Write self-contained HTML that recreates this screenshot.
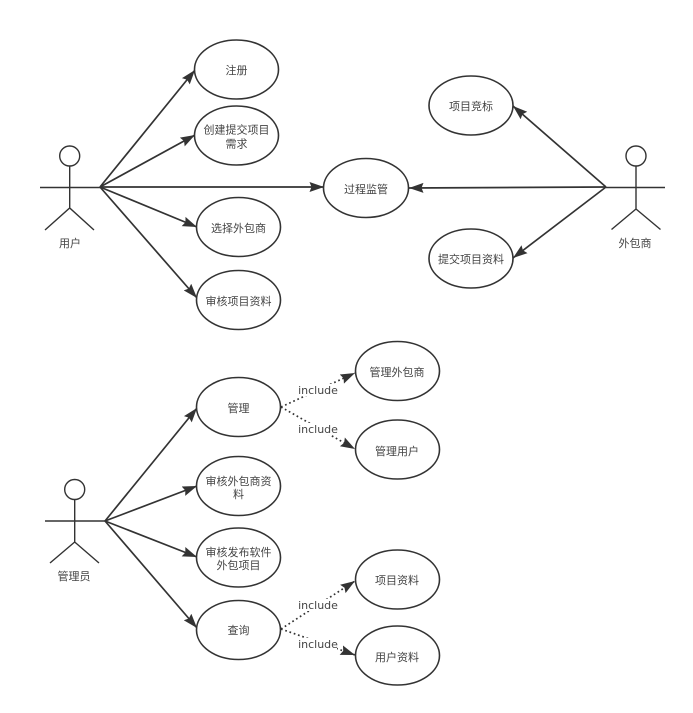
<!DOCTYPE html>
<html><head><meta charset="utf-8">
<style>
html,body{margin:0;padding:0;background:#fff}
svg{display:block;filter:blur(.3px)}
text{font-family:"Liberation Sans","Noto Sans CJK SC",sans-serif;font-size:11px;fill:#444;text-anchor:middle}
text.i{font-family:"DejaVu Sans",sans-serif;font-size:11px}
ellipse{fill:#fff;stroke:#333;stroke-width:1.6}
.l{stroke:#333;stroke-width:1.7;fill:none;marker-end:url(#a)}
.d{stroke:#333;stroke-width:1.7;fill:none;stroke-dasharray:1.7 2.8;marker-end:url(#a)}
.s{stroke:#333;stroke-width:1.4;fill:none}
</style></head><body>
<svg width="693" height="713" viewBox="0 0 693 713" xmlns="http://www.w3.org/2000/svg">
<defs><marker id="a" markerUnits="userSpaceOnUse" markerWidth="16" markerHeight="12" refX="14.5" refY="6" orient="auto"><path d="M0 1L14.5 6L0 11L2 6Z" fill="#333"/></marker></defs>

<line class="l" x1="100" y1="187" x2="195" y2="70"/>
<line class="l" x1="100" y1="187" x2="195" y2="135"/>
<line class="l" x1="100" y1="187" x2="324" y2="187"/>
<line class="l" x1="100" y1="187" x2="197" y2="227"/>
<line class="l" x1="100" y1="187" x2="197" y2="298"/>
<line class="l" x1="606" y1="187" x2="513" y2="106"/>
<line class="l" x1="606" y1="187" x2="409" y2="188"/>
<line class="l" x1="606" y1="187" x2="513" y2="258"/>
<line class="l" x1="105" y1="521" x2="197" y2="408"/>
<line class="l" x1="105" y1="521" x2="197" y2="486"/>
<line class="l" x1="105" y1="521" x2="197" y2="557"/>
<line class="l" x1="105" y1="521" x2="197" y2="628"/>
<line class="d" x1="281" y1="407" x2="355" y2="373"/>
<line class="d" x1="281" y1="407" x2="355" y2="449"/>
<line class="d" x1="281" y1="629" x2="355" y2="581"/>
<line class="d" x1="281" y1="629" x2="355" y2="655"/>

<ellipse cx="236.5" cy="69.5" rx="42" ry="29.5"/>
<ellipse cx="236.5" cy="135.5" rx="42" ry="29.5"/>
<ellipse cx="238.5" cy="227" rx="42" ry="29.5"/>
<ellipse cx="238.5" cy="300" rx="42" ry="29.5"/>
<ellipse cx="366" cy="188" rx="42.5" ry="29.5"/>
<ellipse cx="471" cy="105.5" rx="42" ry="29.5"/>
<ellipse cx="471" cy="258.5" rx="42" ry="29.5"/>
<ellipse cx="238.5" cy="407" rx="42" ry="29.5"/>
<ellipse cx="238.5" cy="486" rx="42" ry="29.5"/>
<ellipse cx="238.5" cy="557.5" rx="42" ry="29.5"/>
<ellipse cx="238.5" cy="630" rx="42" ry="29.5"/>
<ellipse cx="397.5" cy="371" rx="42" ry="29.5"/>
<ellipse cx="397.5" cy="449.5" rx="42" ry="29.5"/>
<ellipse cx="397.5" cy="579.5" rx="42" ry="29.5"/>
<ellipse cx="397.5" cy="655.5" rx="42" ry="29.5"/>

<g class="s">
<circle cx="69.7" cy="156" r="10"/><path d="M69.7 166V208M40 187.5H100M45 230L69.7 208L94 230"/>
<circle cx="636" cy="156" r="10"/><path d="M636 166V209M606 187.5H665M611.5 229.5L636 209L660.5 229.5"/>
<circle cx="74.7" cy="489.5" r="10"/><path d="M74.7 499.5V542M45 521H105M50 563L74.7 542L99 563"/>
</g>

<rect x="299" y="384" width="38" height="12" fill="#fff"/>
<rect x="299" y="423" width="38" height="12" fill="#fff"/>
<rect x="299" y="599" width="38" height="12" fill="#fff"/>
<rect x="299" y="638" width="38" height="12" fill="#fff"/>

<text x="236.5" y="74">注册</text>
<text x="236.5" y="133.5">创建提交项目</text>
<text x="236.5" y="147.5">需求</text>
<text x="238.5" y="232">选择外包商</text>
<text x="238.5" y="305">审核项目资料</text>
<text x="366" y="193">过程监管</text>
<text x="471" y="110">项目竞标</text>
<text x="471" y="263">提交项目资料</text>
<text x="238.5" y="412">管理</text>
<text x="238.5" y="485">审核外包商资</text>
<text x="238.5" y="498">料</text>
<text x="238.5" y="556">审核发布软件</text>
<text x="238.5" y="569">外包项目</text>
<text x="238.5" y="634">查询</text>
<text x="397" y="376">管理外包商</text>
<text x="397" y="455">管理用户</text>
<text x="397" y="584">项目资料</text>
<text x="397" y="661">用户资料</text>
<text x="70" y="247">用户</text>
<text x="635" y="247">外包商</text>
<text x="74" y="580">管理员</text>
<text class="i" x="318" y="394">include</text>
<text class="i" x="318" y="433">include</text>
<text class="i" x="318" y="609">include</text>
<text class="i" x="318" y="648">include</text>
</svg>
</body></html>
